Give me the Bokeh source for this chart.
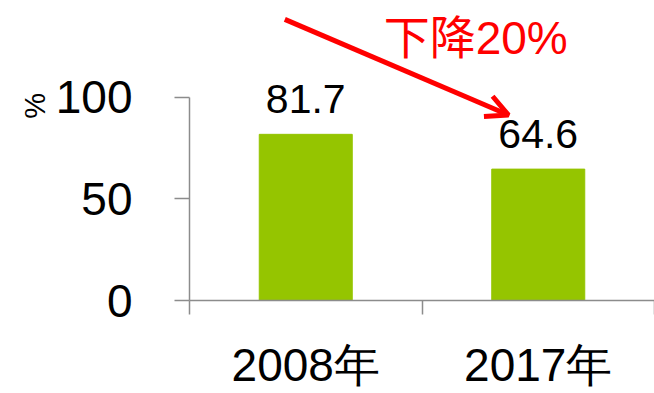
from math import pi
from bokeh.plotting import figure
from bokeh.models import FixedTicker, Range1d, Label, Arrow, OpenHead, ColumnDataSource, LinearAxis
from bokeh.core.properties import value
from bokeh.embed import file_html
from bokeh.resources import INLINE

# ---- data ----
categories = ["2008年", "2017年"]
rates = [81.7, 64.6]
y_ticks = [0, 50, 100]
y_unit = "%"
unit_at = 102
note_text = "下降20%"
# annotation arrow (data units)
arrow_from = (0.41, 138.2)
arrow_to = (1.372, 91.2)
note_pos = (0.835, 129.0)

GREEN = "#95C500"
GRAY = "#8C8C8C"
FONT = "Liberation Sans, Noto Sans CJK SC"

xs = [i + 0.5 for i in range(len(categories))]
src = ColumnDataSource(dict(x=xs, top=rates, label=[f"{v:.1f}" for v in rates]))

p = figure(width=654, height=393, output_backend="svg", toolbar_location=None,
           x_range=Range1d(0, len(categories)), y_range=Range1d(0, 147.5),
           min_border_left=187, min_border_right=0, min_border_top=0, min_border_bottom=92)
p.outline_line_color = None
p.xgrid.visible = False
p.ygrid.visible = False
p.background_fill_color = "white"
p.border_fill_color = "white"

p.vbar(x="x", top="top", width=0.4, bottom=0, color=GREEN, source=src)
p.text(x="x", y="top", text="label", source=src, text_align="center",
       text_baseline="alphabetic", y_offset=-35, text_font_size="41px",
       text_font=value("Liberation Sans"), text_color="black")

# y axis
ya = p.yaxis[0]
ya.ticker = FixedTicker(ticks=y_ticks, minor_ticks=[])
ya.bounds = (0, 100)
ya.axis_line_color = GRAY
ya.axis_line_width = 1.5
ya.major_tick_line_color = GRAY
ya.major_tick_line_width = 1.5
ya.major_tick_out = 15
ya.major_tick_in = 0
ya.major_label_standoff = 42
ya.major_label_text_font = "Liberation Sans"
ya.major_label_text_font_size = "46px"
ya.major_label_text_color = "black"

# unit "%" as a rotated tick label on an outer left axis
ua = LinearAxis(ticker=FixedTicker(ticks=[unit_at], minor_ticks=[]),
                major_label_overrides={unit_at: y_unit},
                major_label_orientation=pi / 2,
                axis_line_color=None,
                major_tick_line_color=None, minor_tick_line_color=None,
                major_tick_out=0, major_tick_in=0, minor_tick_out=0, minor_tick_in=0,
                major_label_standoff=17,
                major_label_text_font="Liberation Sans", major_label_text_font_size="29px",
                major_label_text_color="black")
p.add_layout(ua, "left")

# x axis: boundary ticks as minor ticks, labels at category centres
xa = p.xaxis[0]
xa.ticker = FixedTicker(ticks=xs, minor_ticks=list(range(len(categories) + 1)))
xa.major_label_overrides = {x: c for x, c in zip(xs, categories)}
xa.axis_line_color = GRAY
xa.axis_line_width = 1.5
xa.major_tick_line_color = None
xa.major_tick_out = 0
xa.major_tick_in = 0
xa.minor_tick_line_color = GRAY
xa.minor_tick_line_width = 1.5
xa.minor_tick_out = 14
xa.minor_tick_in = 0
xa.major_label_standoff = 24
xa.major_label_text_font = "Liberation Sans"
xa.major_label_text_font_size = "46px"
xa.major_label_text_color = "black"

p.add_layout(Arrow(x_start=arrow_from[0], y_start=arrow_from[1],
                   x_end=arrow_to[0], y_end=arrow_to[1],
                   line_color="#FF0000", line_width=5,
                   end=OpenHead(size=22, line_color="#FF0000", line_width=5)))
p.add_layout(Label(x=note_pos[0], y=note_pos[1], text=note_text,
                   text_align="left", text_baseline="alphabetic",
                   text_font=FONT, text_font_size="46px", text_color="#FF0000"))

open("out.html", "w").write(file_html(p, INLINE))
